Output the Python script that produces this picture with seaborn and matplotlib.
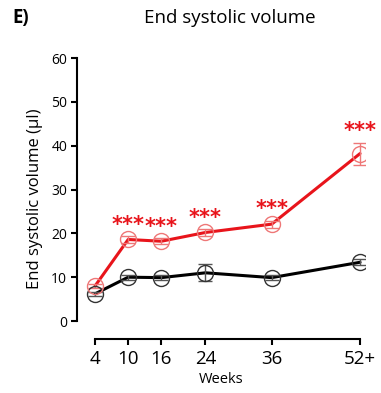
import matplotlib
matplotlib.use("Agg")
import matplotlib.pyplot as plt
import seaborn as sns
import pandas as pd
import numpy as np

weeks = [4, 10, 16, 24, 36, 52]
week_labels = ["4", "10", "16", "24", "36", "52+"]
control_vals = [6.2, 10.0, 9.9, 11.0, 9.9, 13.4]
control_err = [0.5, 0.6, 0.5, 1.9, 0.6, 0.7]
model_vals = [8.0, 18.6, 18.2, 20.2, 22.1, 38.2]
model_err = [0.5, 0.8, 0.7, 0.8, 0.8, 2.5]
stars = ["***", "***", "***", "***", "***"]
star_weeks = [10, 16, 24, 36, 52]
y_ticks = [0, 10, 20, 30, 40, 50, 60]

sns.set_theme(style="ticks")
plt.rcParams["font.family"] = ["Open Sans", "DejaVu Sans"]
plt.rcParams["text.color"] = "black"
plt.rcParams["axes.labelcolor"] = "black"
plt.rcParams["xtick.color"] = "black"
plt.rcParams["ytick.color"] = "black"

df = pd.DataFrame({
    "Weeks": weeks * 2,
    "value": control_vals + model_vals,
    "group": ["control"] * 6 + ["model"] * 6,
})

fig = plt.figure(figsize=(3.81, 3.93), dpi=100)
ax = fig.add_axes([77 / 381, 54 / 393, (365 - 77) / 381, (339 - 58) / 393])

palette = {"control": "black", "model": "#e8141b"}
sns.lineplot(data=df, x="Weeks", y="value", hue="group", palette=palette,
             ax=ax, legend=False, linewidth=2.2, zorder=2)

ax.errorbar(weeks, control_vals, yerr=control_err, fmt="o", mfc="none",
            mec="#333333", ms=11.5, mew=1.0, ecolor="#555555", elinewidth=1.0,
            capsize=5, capthick=1.0, zorder=3)
ax.errorbar(weeks, model_vals, yerr=model_err, fmt="o", mfc="none",
            mec="#ee7777", ms=11.5, mew=1.0, ecolor="#ee7777", elinewidth=1.0,
            capsize=5, capthick=1.0, zorder=3)

for wk, s in zip(star_weeks, stars):
    i = weeks.index(wk)
    ax.text(wk, model_vals[i] + model_err[i] + 0.3, s, color="#e8141b",
            fontsize=15, fontweight="bold", ha="center", va="bottom",
            family="DejaVu Sans")

ax.set_ylim(-4.1, 60)
ax.set_xlim(0.73, 52.9)
ax.set_yticks(y_ticks)
ax.set_yticklabels([str(t) for t in y_ticks], fontsize=10)
ax.set_xticks(weeks)
ax.set_xticklabels(week_labels, fontsize=13.5)
sns.despine(ax=ax)
ax.spines["left"].set_bounds(0, 60)
ax.spines["bottom"].set_bounds(4, 52)
for sp in ["left", "bottom"]:
    ax.spines[sp].set_linewidth(1.5)
    ax.spines[sp].set_color("black")
ax.tick_params(axis="both", direction="out", length=4, width=1.5, colors="black")
ax.tick_params(axis="y", pad=3)
ax.tick_params(axis="x", pad=4)

ax.set_xlabel("Weeks", fontsize=10.5, labelpad=3)
ax.set_ylabel("End systolic volume (µl)", fontsize=12, labelpad=6)

fig.text(230 / 381, 1 - 18 / 393, "End systolic volume", fontsize=13.5,
         ha="center", va="center")
fig.text(12 / 381, 1 - 18 / 393, "E)", fontsize=13.5, fontweight="bold",
         ha="left", va="center")

fig.savefig("out.png", dpi=100)
